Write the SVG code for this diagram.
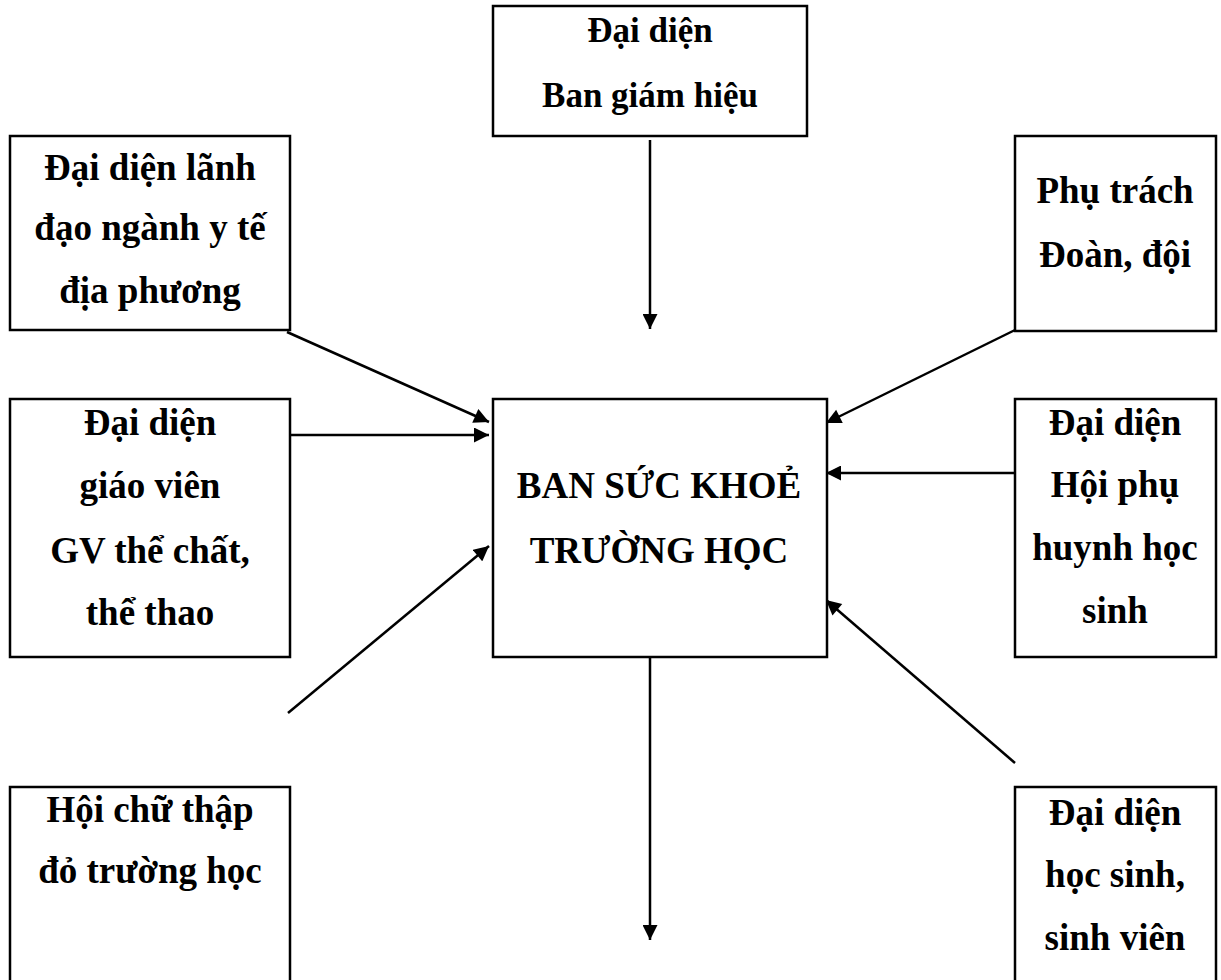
<svg xmlns="http://www.w3.org/2000/svg" width="1221" height="980" viewBox="0 0 1221 980">
<style>
.box{fill:#fff;stroke:#000;stroke-width:2.5}
.t{font-family:"Liberation Serif","Times New Roman",serif;font-weight:bold;font-size:37px;text-anchor:middle;fill:#000}
.s{font-size:35px}
.c{stroke:#000;stroke-width:2.5;fill:none;marker-end:url(#ah)}
</style>
<defs>
<marker id="ah" viewBox="0 0 10 10" refX="10" refY="5" markerWidth="16" markerHeight="15" markerUnits="userSpaceOnUse" orient="auto">
<path d="M0,0 L10,5 L0,10 z" fill="#000"/>
</marker>
</defs>
<rect width="1221" height="980" fill="#fff"/>
<g id="connectors">
<line class="c" x1="650" y1="140" x2="650" y2="329"/>
<line class="c" x1="287" y1="332" x2="489" y2="422"/>
<line class="c" x1="290" y1="435" x2="489" y2="435"/>
<line class="c" x1="288" y1="713" x2="489" y2="546"/>
<line class="c" x1="1015" y1="330" x2="826" y2="423"/>
<line class="c" x1="1015" y1="473" x2="826" y2="473"/>
<line class="c" x1="1015" y1="763" x2="826" y2="600"/>
<line class="c" x1="650" y1="657" x2="650" y2="940"/>
</g>
<g id="n-bgh">
<rect class="box" x="493" y="6" width="314" height="130"/>
<text class="t s" x="650" y="42">Đại diện</text>
<text class="t s" x="650" y="107">Ban giám hiệu</text>
</g>
<g id="n-yte">
<rect class="box" x="10" y="136" width="280" height="194"/>
<text class="t" x="150" y="180">Đại diện lãnh</text>
<text class="t" x="150" y="240">đạo ngành y tế</text>
<text class="t" x="150" y="303">địa phương</text>
</g>
<g id="n-doan">
<rect class="box" x="1015" y="136" width="201" height="195"/>
<text class="t" x="1115" y="203">Phụ trách</text>
<text class="t" x="1115" y="267">Đoàn, đội</text>
</g>
<g id="n-gv">
<rect class="box" x="10" y="399" width="280" height="258"/>
<text class="t" x="150" y="435">Đại diện</text>
<text class="t" x="150" y="498">giáo viên</text>
<text class="t" x="150" y="563">GV thể chất,</text>
<text class="t" x="150" y="625">thể thao</text>
</g>
<g id="n-center">
<rect class="box" x="493" y="399" width="334" height="258"/>
<text class="t" x="659" y="498">BAN SỨC KHOẺ</text>
<text class="t" x="659" y="563">TRƯỜNG HỌC</text>
</g>
<g id="n-phuhuynh">
<rect class="box" x="1015" y="399" width="201" height="258"/>
<text class="t" x="1115" y="435">Đại diện</text>
<text class="t" x="1115" y="497">Hội phụ</text>
<text class="t" x="1115" y="560">huynh học</text>
<text class="t" x="1115" y="623">sinh</text>
</g>
<g id="n-chuthapdo">
<path class="box" d="M10,982 L10,787 L290,787 L290,982"/>
<text class="t" x="150" y="822">Hội chữ thập</text>
<text class="t" x="150" y="883">đỏ trường học</text>
</g>
<g id="n-hocsinh">
<path class="box" d="M1015,982 L1015,787 L1216,787 L1216,982"/>
<text class="t" x="1115" y="825">Đại diện</text>
<text class="t" x="1115" y="887">học sinh,</text>
<text class="t" x="1115" y="950">sinh viên</text>
</g>
</svg>
